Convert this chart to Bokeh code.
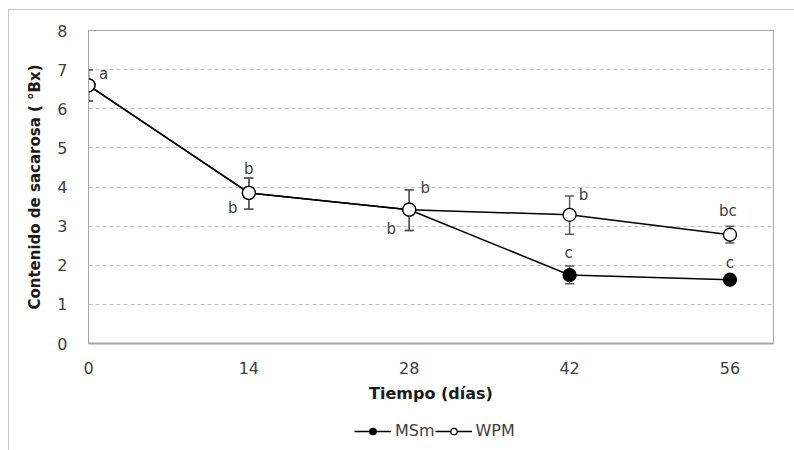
import math
from bokeh.plotting import figure
from bokeh.layouts import column
from bokeh.models import Legend, LegendItem, FixedTicker, Range1d, ColumnDataSource
from bokeh.embed import file_html
from bokeh.resources import INLINE
from bokeh.core.properties import value

# ---- data ----
days = [0, 14, 28, 42, 56]
msm = [6.6, 3.85, 3.42, 1.75, 1.63]
msm_lo = [6.2, 3.43, 2.89, 1.53, 1.55]
msm_hi = [7.0, 4.23, 3.93, 1.98, 1.72]
wpm = [6.6, 3.85, 3.42, 3.29, 2.78]
wpm_lo = [6.2, 3.43, 2.89, 2.79, 2.57]
wpm_hi = [7.0, 4.23, 3.93, 3.77, 3.00]
y_ticks = [0, 1, 2, 3, 4, 5, 6, 7, 8]
series_names = ["MSm", "WPM"]

# significance letters: day, series, letter
letter_day = [0, 14, 14, 28, 28, 42, 42, 56, 56]
letter_series = ["WPM", "WPM", "WPM", "WPM", "WPM", "WPM", "MSm", "WPM", "MSm"]
letter_text = ["a", "b", "b", "b", "b", "b", "c", "bc", "c"]
# pixel offsets for the letters (style)
letter_dx = [15, 0, -16, 16, -18, 14, -1, -2, 0]
letter_dy = [-11, -24, 15, -22, 19, -20, -22, -24, -17]

FONT = "DejaVu Sans"
TXT = "#404040"
DARK = "#1a1a1a"
ERR = "#595959"

p = figure(width=785, height=400, output_backend="svg", toolbar_location=None,
           x_range=Range1d(0, 59.8), y_range=Range1d(0, 8),
           min_border_left=79, min_border_right=21, min_border_top=20, min_border_bottom=67)
p.background_fill_color = "white"
p.border_fill_color = "white"
p.outline_line_color = "#a6a6a6"
p.outline_line_width = 1

# axes
p.xaxis.ticker = FixedTicker(ticks=days)
p.yaxis.ticker = FixedTicker(ticks=y_ticks)
for ax in (p.xaxis[0], p.yaxis[0]):
    ax.major_tick_line_color = None
    ax.minor_tick_line_color = None
    ax.major_label_text_font = FONT
    ax.major_label_text_font_size = "16px"
    ax.major_label_text_color = TXT
    ax.axis_label_text_font = FONT
    ax.axis_label_text_font_style = "bold"
    ax.axis_label_text_color = DARK
p.yaxis.axis_line_color = "#a6a6a6"
p.xaxis.axis_line_color = "#a6a6a6"
p.xaxis.axis_line_width = 2
p.yaxis.major_label_standoff = 15
p.xaxis.major_label_standoff = 12
p.xaxis.axis_label = "Tiempo (días)"
p.xaxis.axis_label_text_font_size = "16px"
p.xaxis.axis_label_standoff = 7
p.yaxis.axis_label = "Contenido de sacarosa ( °Bx)"
p.yaxis.axis_label_text_font_size = "15px"
p.yaxis.axis_label_standoff = 10

p.xgrid.grid_line_color = None
p.ygrid.grid_line_color = "#bfbfbf"
p.ygrid.grid_line_dash = "4 3"
p.ygrid.grid_line_width = 1

def series(yv, lo, hi, fill):
    p.line(days, yv, line_color="black", line_width=1.5)
    p.segment(x0=days, y0=lo, x1=days, y1=hi, line_color=ERR, line_width=1.5)
    p.scatter(days, lo, marker="dash", size=9, line_color=ERR, line_width=1.5)
    p.scatter(days, hi, marker="dash", size=9, line_color=ERR, line_width=1.5)
    p.scatter(days, yv, marker="circle", size=13, line_color="black",
              line_width=1.3, fill_color=fill)

series(msm, msm_lo, msm_hi, "black")
series(wpm, wpm_lo, wpm_hi, "white")

# letters
lx, ly = [], []
for d, s in zip(letter_day, letter_series):
    i = days.index(d)
    lx.append(d)
    ly.append(wpm[i] if s == "WPM" else msm[i])
src = ColumnDataSource(dict(x=lx, y=ly, t=letter_text, dx=letter_dx, dy=letter_dy))
p.text(x="x", y="y", text="t", x_offset="dx", y_offset="dy", source=src,
       text_align="center", text_baseline="middle", text_font=value(FONT),
       text_font_size="15px", text_color=TXT)

# legend strip (separate figure below, glyphs kept out of view)
p2 = figure(width=785, height=40, output_backend="svg", toolbar_location=None,
            x_range=Range1d(0, 1), y_range=Range1d(0, 1),
            min_border=0, min_border_left=0, min_border_right=0,
            min_border_top=0, min_border_bottom=0)
p2.axis.visible = False
p2.grid.visible = False
p2.outline_line_color = None
p2.background_fill_color = "white"
p2.border_fill_color = "white"
items = []
for name, fill in zip(series_names, ["black", "white"]):
    ln = p2.line([-5, -4], [-5, -4], line_color="black", line_width=1.5)
    mk = p2.scatter([-5], [-5], marker="circle", size=11, line_color="black",
                    line_width=1.3, fill_color=fill)
    items.append(LegendItem(label=name, renderers=[ln, mk]))
legend = Legend(items=items, orientation="horizontal", location=(266, 10),
                glyph_width=37, glyph_height=16, label_standoff=4, spacing=0,
                padding=0, margin=0, border_line_color=None,
                background_fill_alpha=0,
                label_text_font=FONT, label_text_font_size="16px",
                label_text_color=TXT)
p2.add_layout(legend)

lay = column(p, p2, spacing=0)
lay.styles = {"margin-left": "8px", "margin-top": "9px",
              "border-left": "1px solid #c8c8c8", "border-top": "1px solid #c8c8c8"}

open("out.html", "w").write(file_html(lay, INLINE))
